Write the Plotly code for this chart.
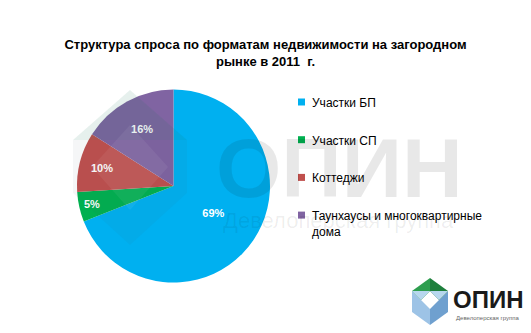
import plotly.graph_objects as go

categories = ["Участки БП", "Участки СП", "Коттеджи", "Таунхаусы и многоквартирные<br>дома"]
shares = [69, 5, 10, 16]
colors = ["#00B0F0", "#00B050", "#C0504D", "#8064A2"]
title_text = "Структура спроса по форматам недвижимости на загородном<br>рынке в 2011  г."

W, H = 531, 333
def px(x, y):
    return x / W, 1 - y / H

def path(points):
    s = ""
    for i, (x, y) in enumerate(points):
        X, Y = px(x, y)
        s += ("M" if i == 0 else "L") + f"{X:.5f},{Y:.5f} "
    return s + "Z"

fig = go.Figure()
cx, cy, r = 173.5, 186, 96.5
x0, y1 = px(cx - r, cy - r)
x1, y0 = px(cx + r, cy + r)
fig.add_trace(go.Pie(
    labels=categories, values=shares, sort=False, direction="clockwise", rotation=0,
    marker=dict(colors=colors, line=dict(width=0)),
    texttemplate="%{percent:.0%}", textposition="inside", insidetextorientation="horizontal",
    textfont=dict(color="white", size=11, family="Liberation Sans", weight="bold"),
    domain=dict(x=[x0, x1], y=[y0, y1]), showlegend=False, hoverinfo="label+percent",
))

shapes = []
annotations = []

# watermark hexagon (faint)
hx = [(130, 90), (73, 140), (73, 193), (130, 245), (187, 193), (187, 140)]
shapes.append(dict(type="path", xref="paper", yref="paper", path=path(hx),
                   fillcolor="rgba(60,80,100,0.05)", line=dict(width=0), layer="above"))
shapes.append(dict(type="path", xref="paper", yref="paper",
                   path=path([(130, 90), (73, 140), (130, 140), (187, 140)]),
                   fillcolor="rgba(0,150,80,0.06)", line=dict(width=0), layer="above"))
shapes.append(dict(type="path", xref="paper", yref="paper",
                   path=path([(130, 125), (92, 167), (130, 210), (168, 167)]),
                   fillcolor="rgba(255,255,255,0.06)", line=dict(width=0), layer="above"))

# watermark text
annotations += [
    dict(text="<b>ОПИН</b>", x=px(214, 0)[0], y=px(0, 168)[1], xref="paper", yref="paper",
         xanchor="left", yanchor="middle", showarrow=False,
         font=dict(size=84, color="rgba(0,0,0,0.09)", family="Liberation Sans")),
    dict(text="Девелоперская группа", x=px(221, 0)[0], y=px(0, 220)[1], xref="paper", yref="paper",
         xanchor="left", yanchor="middle", showarrow=False,
         font=dict(size=22, color="rgba(0,0,0,0.07)", family="Liberation Sans")),
]

# legend (manual, squares + labels)
leg_x, leg_y0, leg_dy = 298, 102, 37.7
for i, (c, col) in enumerate(zip(categories, colors)):
    yc = leg_y0 + i * leg_dy
    sx0, sy0 = px(leg_x, yc - 3.5)
    sx1, sy1 = px(leg_x + 7, yc + 3.5)
    shapes.append(dict(type="rect", xref="paper", yref="paper", x0=sx0, x1=sx1, y0=sy1, y1=sy0,
                       fillcolor=col, line=dict(width=0)))
    annotations.append(dict(text=c, x=px(leg_x + 12, 0)[0], y=px(0, yc - 8)[1], xref="paper", yref="paper",
                            xanchor="left", yanchor="top", align="left", showarrow=False,
                            font=dict(size=12, color="black", family="Liberation Sans")))

# logo icon (bottom-right)
shapes += [
    dict(type="path", xref="paper", yref="paper",
         path=path([(412, 291), (412, 312), (430, 325), (430, 309), (421, 300)]),
         fillcolor="#9DC3E6", line=dict(width=0)),
    dict(type="path", xref="paper", yref="paper",
         path=path([(448, 291), (448, 312), (430, 325), (430, 309), (439, 300)]),
         fillcolor="#6FA0CF", line=dict(width=0)),
    dict(type="path", xref="paper", yref="paper",
         path=path([(430, 278), (412, 291), (421, 300), (430, 291)]),
         fillcolor="#2E9E4F", line=dict(width=0)),
    dict(type="path", xref="paper", yref="paper",
         path=path([(430, 278), (448, 291), (439, 300), (430, 291)]),
         fillcolor="#1E7F3C", line=dict(width=0)),
    dict(type="path", xref="paper", yref="paper",
         path=path([(412, 291), (421, 300), (430, 291), (439, 300), (448, 291)]),
         fillcolor="#B7D7EE", line=dict(width=0)),
]
annotations += [
    dict(text="<b>ОПИН</b>", x=px(451, 0)[0], y=px(0, 299)[1], xref="paper", yref="paper",
         xanchor="left", yanchor="middle", showarrow=False,
         font=dict(size=24, color="#1a1a1a", family="Liberation Sans")),
    dict(text="Девелоперская группа", x=px(454, 0)[0], y=px(0, 318)[1], xref="paper", yref="paper",
         xanchor="left", yanchor="middle", showarrow=False,
         font=dict(size=6, color="#666666", family="Liberation Sans")),
]

fig.update_layout(
    width=W, height=H, margin=dict(l=0, r=0, t=0, b=0),
    paper_bgcolor="white", plot_bgcolor="white",
    title=dict(text="<b>" + title_text + "</b>", x=0.5, xanchor="center", y=px(0, 49)[1], yanchor="top",
               font=dict(size=13, color="black", family="Liberation Sans")),
    showlegend=False,
    shapes=shapes, annotations=annotations,
)
fig.write_html("out.html")
